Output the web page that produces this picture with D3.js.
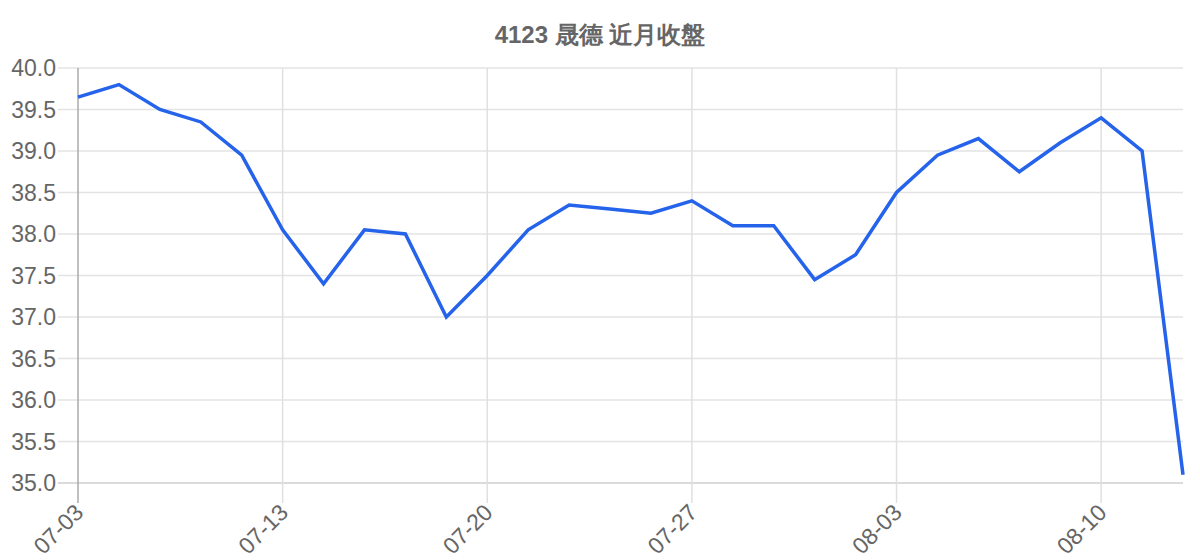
<!DOCTYPE html>
<html>
<head>
<meta charset="utf-8">
<script src="https://cdn.jsdelivr.net/npm/d3@7"></script>
<style>
  body { margin: 0; background: #fff; }
  svg { display: block; font-family: "Liberation Sans", Arial, sans-serif; }
</style>
</head>
<body>
<div id="chart"></div>
<script>
  var title = '4123 晟德 近月收盤';

  var dates = [
    '07-03', '07-04', '07-06', '07-10', '07-12',
    '07-13', '07-14', '07-17', '07-18', '07-19',
    '07-20', '07-21', '07-24', '07-25', '07-26',
    '07-27', '07-28', '07-31', '08-01', '08-02',
    '08-03', '08-04', '08-07', '08-08', '08-09',
    '08-10', '08-11', '08-14'
  ];

  var closes = [
    39.65, 39.8, 39.5, 39.35, 38.95,
    38.05, 37.4, 38.05, 38.0, 37.0,
    37.5, 38.05, 38.35, 38.3, 38.25,
    38.4, 38.1, 38.1, 37.45, 37.75,
    38.5, 38.95, 39.15, 38.75, 39.1,
    39.4, 39.0, 35.1
  ];

  var yTicks = [35, 35.5, 36, 36.5, 37, 37.5, 38, 38.5, 39, 39.5, 40];
  var xTickEvery = 5;

  var width = 1200,
      height = 560,
      margin = { top: 68, right: 17, bottom: 77, left: 78 };

  var svg = d3.select('#chart')
    .append('svg')
    .attr('width', width)
    .attr('height', height);

  var x = d3.scalePoint()
    .domain(dates)
    .range([margin.left, width - margin.right]);

  var y = d3.scaleLinear()
    .domain([35, 40])
    .range([height - margin.bottom, margin.top]);

  var xTickDates = dates.filter(function(d, i) { return i % xTickEvery === 0; });

  // title
  svg.append('text')
    .attr('x', width / 2)
    .attr('y', 43)
    .attr('text-anchor', 'middle')
    .attr('font-size', 24)
    .attr('font-weight', 'bold')
    .attr('fill', '#666')
    .text(title);

  /* ------- GRID ------- */
  svg.append('g')
    .attr('class', 'ygrid')
    .selectAll('line')
    .data(yTicks)
    .enter()
    .append('line')
    .attr('x1', margin.left - 20)
    .attr('x2', width - margin.right)
    .attr('y1', function(d) { return y(d); })
    .attr('y2', function(d) { return y(d); })
    .attr('stroke', function(d) { return d === 35 ? '#cfcfcf' : '#e3e3e3'; })
    .attr('stroke-width', 1.5);

  svg.append('g')
    .attr('class', 'xgrid')
    .selectAll('line')
    .data(xTickDates)
    .enter()
    .append('line')
    .attr('x1', function(d) { return x(d); })
    .attr('x2', function(d) { return x(d); })
    .attr('y1', margin.top)
    .attr('y2', height - margin.bottom + 20)
    .attr('stroke', function(d, i) { return i === 0 ? '#aaa' : '#e0e0e0'; })
    .attr('stroke-width', 1.5);

  /* ------- AXIS LABELS ------- */
  svg.append('g')
    .attr('class', 'ylabels')
    .selectAll('text')
    .data(yTicks)
    .enter()
    .append('text')
    .attr('x', margin.left - 22)
    .attr('y', function(d) { return y(d); })
    .attr('dy', '0.36em')
    .attr('text-anchor', 'end')
    .attr('font-size', 23)
    .attr('fill', '#666')
    .text(function(d) { return d3.format('.1f')(d); });

  svg.append('g')
    .attr('class', 'xlabels')
    .selectAll('text')
    .data(xTickDates)
    .enter()
    .append('text')
    .attr('transform', function(d) {
      return 'translate(' + (x(d) + 1) + ',' + (height - margin.bottom + 25) + ') rotate(-45)';
    })
    .attr('dy', '0.36em')
    .attr('text-anchor', 'end')
    .attr('font-size', 23)
    .attr('fill', '#666')
    .text(function(d) { return d; });

  /* ------- LINE ------- */
  var line = d3.line()
    .x(function(d, i) { return x(dates[i]); })
    .y(function(d) { return y(d); });

  svg.append('path')
    .datum(closes)
    .attr('d', line)
    .attr('fill', 'none')
    .attr('stroke', '#2563eb')
    .attr('stroke-width', 3.5)
    .attr('stroke-linejoin', 'miter');
</script>
</body>
</html>
